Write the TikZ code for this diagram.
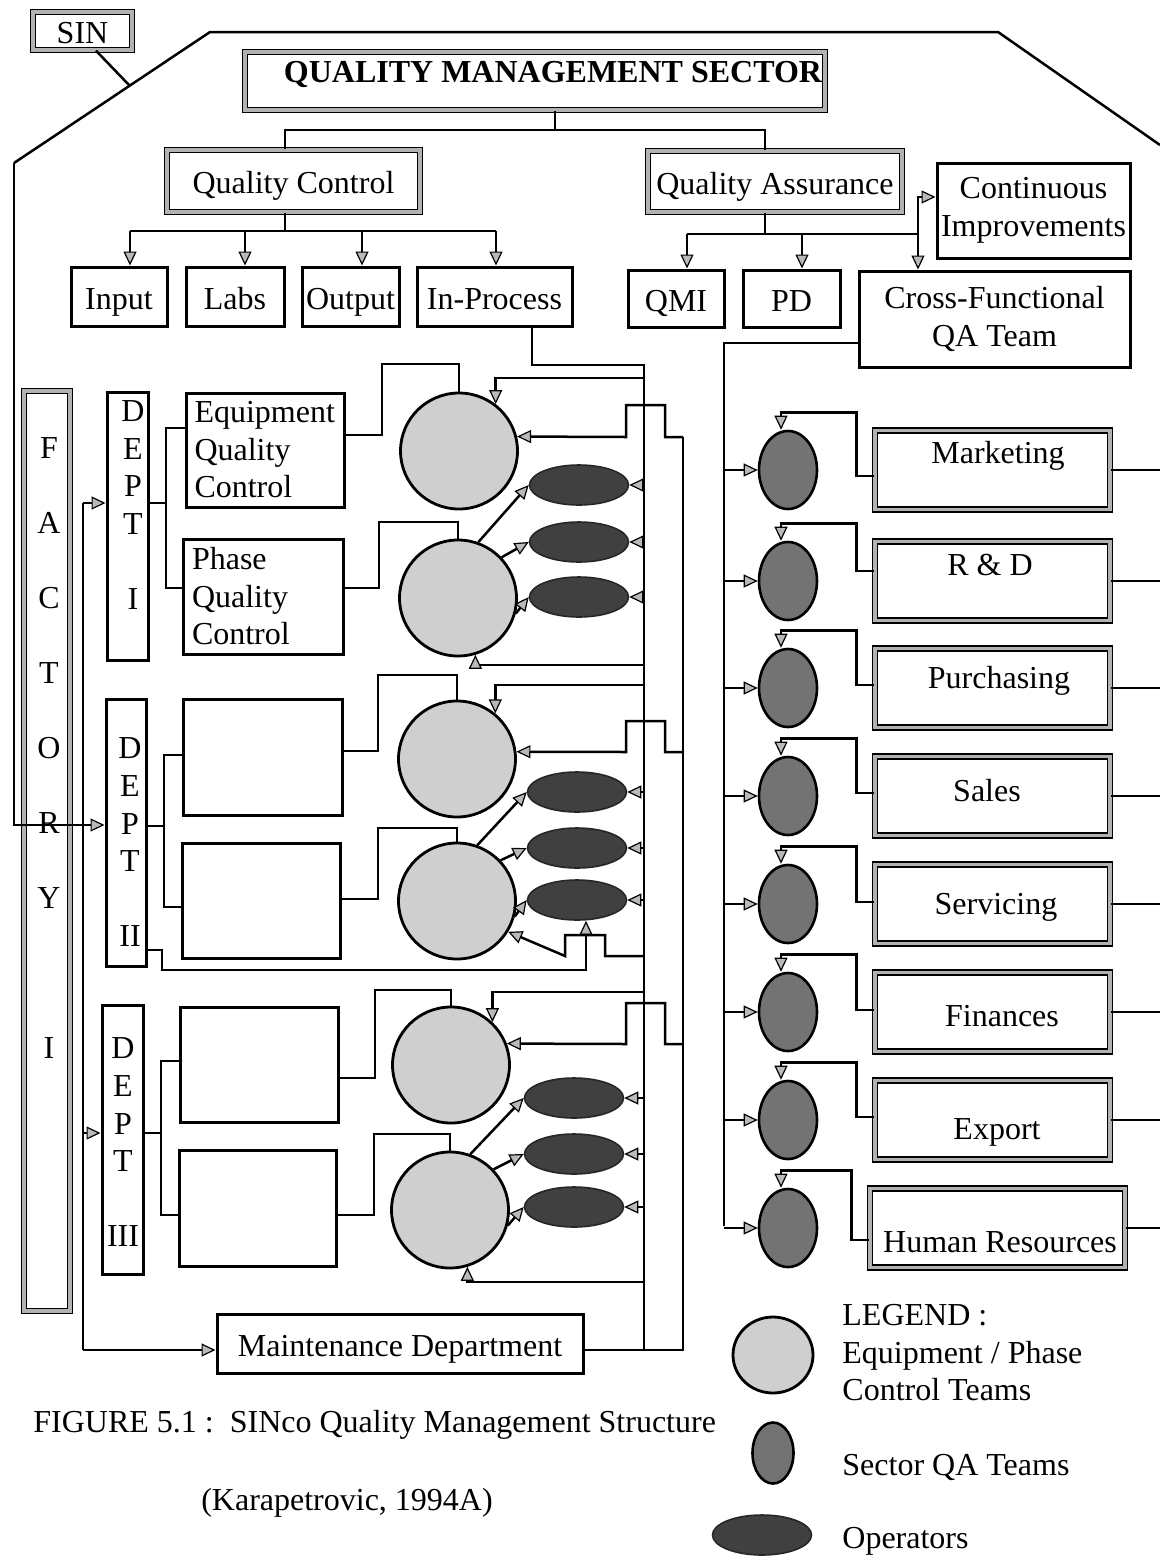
\documentclass[tikz,border=0pt]{standalone}
\usepackage{fontspec}
\setmainfont{Liberation Serif}
\usetikzlibrary{arrows.meta,shapes.geometric,calc}

\begin{document}
\begin{tikzpicture}[x=0.5pt,y=-0.5pt,
    font=\fontsize{16}{18.75}\selectfont,
    wire/.style={line width=1.25pt},
    arr/.style={wire,-{Triangle[length=7pt,width=6.5pt,fill=gray!55,line width=0.6pt]}},
    sbox/.style={draw,line width=1.5pt,inner sep=0pt},
    dbox/.style={draw,line width=0.7pt,double=gray!60,double distance=1.8pt,inner sep=0pt},
    one/.style={text height=13pt,text depth=0.5pt},
    eqteam/.style={ellipse,draw,line width=1.4pt,fill=gray!38,minimum width=58.5pt,minimum height=58pt,inner sep=0pt},
    qateam/.style={ellipse,draw,line width=1.3pt,fill=black!55,minimum width=29pt,minimum height=39pt,inner sep=0pt},
    opteam/.style={ellipse,draw=black!85,line width=0.8pt,fill=black!75,minimum width=49.5pt,minimum height=20pt,inner sep=0pt},
    letters/.style={align=center,inner sep=0pt,font=\fontsize{16}{18.8}\selectfont}]

    \useasboundingbox (0,0) rectangle (1160,1564);
    \coordinate (busA) at (644,0);
    \coordinate (busB) at (683,0);
    \coordinate (lft) at (83,0);
    \coordinate (cfbus) at (724,0);
    \coordinate (rim) at (1160,0);

    % sector
    \node[dbox,one,minimum width=49.5pt,minimum height=19pt] (sin) at (82.5,31) {SIN};
    \node[dbox,minimum width=290pt,minimum height=29pt] (qms) at (535,81) {};
    \node[font=\fontsize{16}{18.75}\selectfont\bfseries,inner sep=0pt] (qmstxt) at (553,74) {QUALITY MANAGEMENT SECTOR};
    \node[dbox,one,minimum width=126.5pt,minimum height=31pt] (qc) at (293.5,181) {Quality Control};
    \node[dbox,one,minimum width=127pt,minimum height=30.5pt] (qa) at (775,181.5) {Quality Assurance};

    \node[sbox,one,minimum width=48pt,minimum height=29.5pt] (input) at (119,296.5) {Input};
    \node[sbox,one,minimum width=49pt,minimum height=29.5pt] (labs) at (235,296.5) {Labs};
    \node[sbox,one,minimum width=48.5pt,minimum height=29.5pt] (output) at (350.5,296.5) {Output};
    \node[sbox,one,minimum width=77.5pt,minimum height=29.5pt] (inproc) at (494.5,296.5) {In-Process};
    \node[sbox,one,minimum width=48pt,minimum height=28.5pt] (qmi) at (676,298.5) {QMI};
    \node[sbox,one,minimum width=48.5pt,minimum height=28.5pt] (pd) at (791.5,298.5) {PD};
    \node[sbox,minimum width=135.5pt,minimum height=48pt,align=center,font=\fontsize{16}{19}\selectfont] (cfqa) at (994.5,319) {Cross-Functional\\QA Team};
    \node[sbox,minimum width=96.5pt,minimum height=47.5pt,align=center,font=\fontsize{16}{19}\selectfont] (ci) at (1033.5,210.5) {Continuous\\Improvements};

    \draw[wire] (1160,145) -- (998,32) -- (210,32) -- (14,163);
    \draw[wire] (sin.south -| 96,0) -- (130,86);
    \draw[wire] (qms.south -| 555,0) -- (555,130);
    \draw[wire] (qc.north -| 285,0) |- (765,130) -- (qa.north -| 765,0);
    \draw[wire] (qc.south -| 285,0) -- (285,231);
    \draw[wire] (130,231) -- (496,231);
    \foreach \n/\x in {input/130,labs/245,output/362,inproc/496}
        \draw[arr] (\x,231) -- (\n.north -| \x,0);
    \draw[wire] (qa.south -| 765,0) -- (765,234);
    \draw[wire] (687,234) -- (918,234);
    \foreach \n/\x in {qmi/687,pd/802,cfqa/918}
        \draw[arr] (\x,234) -- (\n.north -| \x,0);
    \draw[arr] (918,234) |- (ci.west |- 0,197);

    % factory and departments
    \node[dbox,minimum width=23pt,minimum height=460pt] (factory) at (47,851) {};
    \node[letters,font=\fontsize{16}{37.5}\selectfont] (factorytxt) at (49,748) {F\\A\\C\\T\\O\\R\\Y\\\mbox{}\\I};
    \node[sbox,minimum width=20.5pt,minimum height=134pt] (dept1) at (127.5,526) {};
    \node[letters] (d1txt) at (133,505) {D\\E\\P\\T\\\mbox{}\\I};
    \node[sbox,minimum width=20pt,minimum height=133.5pt] (dept2) at (126,832.5) {};
    \node[letters] (d2txt) at (130,842.5) {D\\E\\P\\T\\\mbox{}\\II};
    \node[sbox,minimum width=20.5pt,minimum height=134.5pt] (dept3) at (122.5,1139.5) {};
    \node[letters] (d3txt) at (123,1142.5) {D\\E\\P\\T\\\mbox{}\\III};

    \node[sbox,minimum width=79pt,minimum height=57pt,text width=70.5pt,align=left] (eqc) at (265,450) {Equipment\\Quality\\Control};
    \node[sbox,minimum width=80pt,minimum height=57.5pt,text width=71pt,align=left] (phq) at (263,596.5) {Phase\\Quality\\Control};
    \node[sbox,minimum width=79.5pt,minimum height=58pt] (b21) at (262.5,757) {};
    \node[sbox,minimum width=79pt,minimum height=57.5pt] (b22) at (261,900.5) {};
    \node[sbox,minimum width=79pt,minimum height=57.5pt] (b31) at (259,1064.5) {};
    \node[sbox,minimum width=78.5pt,minimum height=58pt] (b32) at (257.5,1208) {};
    \node[sbox,one,minimum width=183pt,minimum height=29.5pt] (maint) at (400,1343.5) {Maintenance Department};

    \node[eqteam] (eq1) at (459,451) {};
    \node[eqteam] (ph1) at (458,598) {};
    \node[eqteam] (eq2) at (457,759) {};
    \node[eqteam] (ph2) at (457,901) {};
    \node[eqteam] (eq3) at (451,1065) {};
    \node[eqteam] (ph3) at (450,1210) {};
    \node[opteam] (op11) at (579,485) {};
    \node[opteam] (op12) at (579,542) {};
    \node[opteam] (op13) at (579,597) {};
    \node[opteam] (op21) at (577,792) {};
    \node[opteam] (op22) at (577,848) {};
    \node[opteam] (op23) at (577,900) {};
    \node[opteam] (op31) at (574,1098) {};
    \node[opteam] (op32) at (574,1154) {};
    \node[opteam] (op33) at (574,1207) {};

    \draw[arr] (14,163) |- (dept2.west |- 0,825);
    \draw[wire] (lft |- 0,503) -- (lft |- 0,1350);
    \draw[arr] (lft |- 0,503) -- (dept1.west |- 0,503);
    \draw[arr] (lft |- 0,1133) -- (dept3.west |- 0,1133);
    \draw[arr] (lft |- 0,1350) -- (maint.west |- 0,1350);

    \draw[wire] (dept1.east |- 0,503) -- (166,503);
    \draw[wire] (eqc.west |- 0,428) -| (166,588) -- (phq.west |- 0,588);
    \draw[wire] (dept2.east |- 0,826) -- (164,826);
    \draw[wire] (b21.west |- 0,755) -| (164,907) -- (b22.west |- 0,907);
    \draw[wire] (dept3.east |- 0,1133) -- (161,1133);
    \draw[wire] (b31.west |- 0,1061) -| (161,1215) -- (b32.west |- 0,1215);

    \draw[wire] (eqc.east |- 0,435) -| (382,364) -| (eq1.north);
    \draw[wire] (phq.east |- 0,588) -| (379,522) -| (ph1.north);
    \draw[wire] (b21.east |- 0,751) -| (378,675) -| (eq2.north);
    \draw[wire] (b22.east |- 0,899) -| (378,828) -| (ph2.north);
    \draw[wire] (b31.east |- 0,1078) -| (375,990) -| (eq3.north);
    \draw[wire] (b32.east |- 0,1215) -| (374,1134) -| (ph3.north);

    % in-process and maintenance lines
    \draw[wire] (inproc.south -| 532,0) |- (busA |- 0,365) -- (busA |- 0,1350);
    \draw[wire] (maint.east |- 0,1350) -- (busB |- 0,1350) -- (busB |- 0,437);
    \draw[arr] (busA |- 0,378) -| (eq1.52);
    \draw[arr] (busA |- 0,685) -| (eq2.50);
    \draw[arr] (busA |- 0,992) -| (eq3.46);
    \draw[arr] (busB |- 0,437) -| (665,405) -| (626,437) -- (eq1.14);
    \draw[arr] (busB |- 0,752) -| (665,721) -| (626,752) -- (eq2.7);
    \draw[arr] (busB |- 0,1044) -| (665,1003) -| (626,1044) -- (eq3.21);
    \draw[arr] (busA |- 0,665) -| (ph1.-73);
    \draw[arr] (busA |- 0,1282) -| (ph3.-73);
    \draw[arr] (dept2.east |- 0,950) -| (162,970) -| (op23.south -| 586,0);
    \draw[arr] (busA |- 0,956) -| (605,935) -| (565,956) -- (ph2.-31);
    \foreach \g in {1,2,3} {
        \foreach \k in {1,2,3}
            \draw[arr] (busA |- op\g\k.east) -- (op\g\k.east);
        \draw[arr] (ph\g.70) -- (op\g1.west);
        \draw[arr] (ph\g.43) -- (op\g2.west);
        \draw[arr] (ph\g.-15) -- (op\g3.west);
    }

    % sector QA teams
    \draw[wire] (cfqa.west |- 0,343) -| (cfbus |- 0,1226);
    \foreach \n/\lbl/\y/\ty/\tx/\cy/\xc/\w in {
        mkt/Marketing/470/451/998/476/992.5/117.5pt,
        rd/R \& D/581/563/990/571/992.5/117.5pt,
        pur/Purchasing/688/676/999/685/992.5/117.5pt,
        sal/Sales/796/789/987/793/992.5/117.5pt,
        ser/Servicing/904/902/996/902/992.5/117.5pt,
        fin/Finances/1012/1014/1002/1010/992.5/117.5pt,
        exp/Export/1120/1127/997/1117/992.5/117.5pt,
        hr/Human Resources/1228/1240/1000/1240/997.5/127.5pt} {
        \node[dbox,minimum width=\w,minimum height=39.5pt] (b\n) at (\xc,\y) {};
        \node[one,inner sep=0pt] (t\n) at (\tx,\ty) {\lbl};
        \node[qateam] (e\n) at (788,\y) {};
        \draw[arr] (cfbus |- e\n.west) -- (e\n.west);
        \draw[arr] (b\n.west |- 0,\cy) -- ++(-18,0) |- ($(e\n.north)+(-7,-17)$) -- ($(e\n.north)+(-7,0)$);
        \draw[wire] (b\n.east) -- (b\n.east -| rim);
    }

    % legend
    \node[eqteam,minimum width=40pt,minimum height=38pt] (leq) at (773,1355) {};
    \node[qateam,minimum width=20.5pt,minimum height=30.5pt] (lqa) at (773,1453) {};
    \node[opteam] (lop) at (762,1535) {};
    \node[anchor=west,align=left,inner sep=0pt] (leqtxt) at (842,1353) {LEGEND :\\Equipment / Phase\\Control Teams};
    \node[anchor=west,inner sep=0pt] (lqatxt) at (842,1467) {Sector QA Teams};
    \node[anchor=west,inner sep=0pt] (loptxt) at (842,1541) {Operators};

    \node[anchor=west,inner sep=0pt] (cap) at (33,1425) {FIGURE 5.1 :\ \ SINco Quality Management Structure};
    \node[inner sep=0pt] (src) at (347,1503) {(Karapetrovic, 1994A)};
\end{tikzpicture}
\end{document}
